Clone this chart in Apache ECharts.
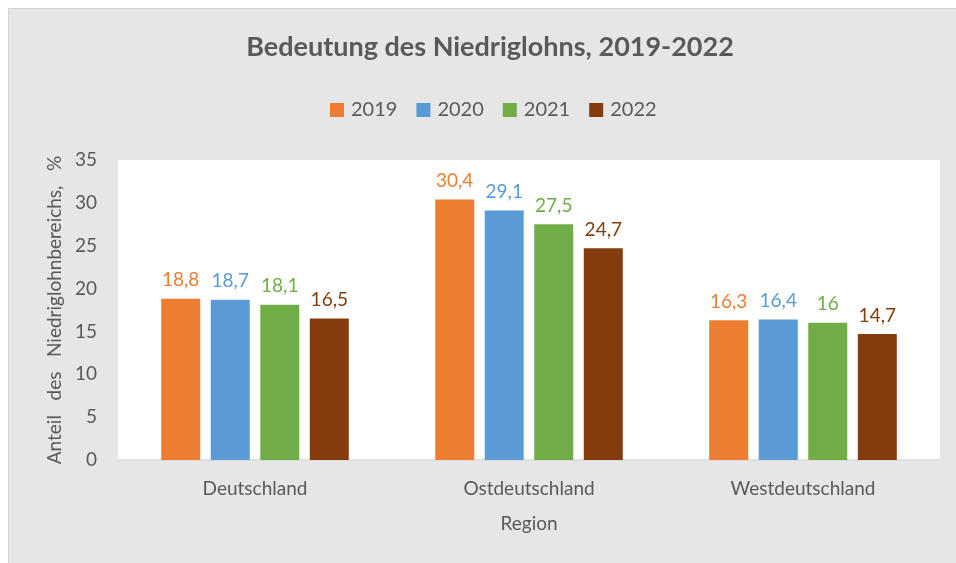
<!DOCTYPE html>
<html>
<head>
<meta charset="utf-8">
<script src="https://cdn.jsdelivr.net/npm/echarts@6/dist/echarts.min.js"></script>
<style>
html,body{margin:0;padding:0;background:#fff;width:956px;height:563px;overflow:hidden;}
#c{position:absolute;left:8px;top:8px;width:947px;height:554px;background:#e6e6e6;border-left:1px solid #d4d4d4;border-top:1px solid #d4d4d4;}
</style>
</head>
<body>
<div id="c"></div>
<script>
const categories = ['Deutschland', 'Ostdeutschland', 'Westdeutschland'];
const years = ['2019', '2020', '2021', '2022'];
const v2019 = [18.8, 30.4, 16.3];
const v2020 = [18.7, 29.1, 16.4];
const v2021 = [18.1, 27.5, 16];
const v2022 = [16.5, 24.7, 14.7];
const yTicks = [0, 5, 10, 15, 20, 25, 30, 35];

const colors = ['#ED7D31', '#5B9BD5', '#70AD47', '#843C0C'];
const values = [v2019, v2020, v2021, v2022];
const font = 'Lato, Carlito, Calibri, "Open Sans", sans-serif';
const txt = '#595959';

const chart = echarts.init(document.getElementById('c'), null, {renderer: 'canvas'});
chart.setOption({
  animation: false,
  textStyle: {fontFamily: font},
  title: {
    text: 'Bedeutung des Niedriglohns, 2019-2022',
    left: 476, top: 20, textAlign: 'center',
    textStyle: {fontFamily: font, fontSize: 27, fontWeight: 'bold', color: txt}
  },
  legend: {
    data: years,
    left: 316, top: 86,
    itemWidth: 14, itemHeight: 14, itemGap: 19,
    icon: 'rect',
    textStyle: {fontFamily: font, fontSize: 20, color: txt, padding: [0, 0, 0, 2]}
  },
  grid: {left: 109, top: 151, right: 16, bottom: 103, show: true, backgroundColor: '#ffffff', borderWidth: 0},
  xAxis: {
    type: 'category',
    data: categories,
    name: 'Region',
    nameLocation: 'middle',
    nameGap: 54,
    nameTextStyle: {fontFamily: font, fontSize: 19, color: txt},
    axisLine: {lineStyle: {color: '#d9d9d9', width: 1.5}},
    axisTick: {show: false},
    axisLabel: {fontFamily: font, fontSize: 19, color: txt, margin: 19}
  },
  yAxis: {
    type: 'value',
    min: yTicks[0], max: yTicks[yTicks.length - 1], interval: 5,
    name: 'Anteil   des   Niedriglohnbereichs,   %',
    nameLocation: 'middle',
    nameGap: 48,
    nameRotate: 90,
    nameTextStyle: {fontFamily: font, fontSize: 19, color: txt},
    axisLine: {show: false},
    axisTick: {show: false},
    splitLine: {show: false},
    axisLabel: {fontFamily: font, fontSize: 19, color: txt, margin: 21}
  },
  series: years.map((y, i) => ({
    name: y,
    type: 'bar',
    data: values[i],
    barWidth: 39,
    barGap: '27%',
    itemStyle: {color: colors[i]},
    label: {
      show: true, position: 'top', distance: 9,
      fontFamily: font, fontSize: 19, color: colors[i],
      formatter: p => String(p.value).replace('.', ',')
    }
  }))
});
</script>
</body>
</html>
